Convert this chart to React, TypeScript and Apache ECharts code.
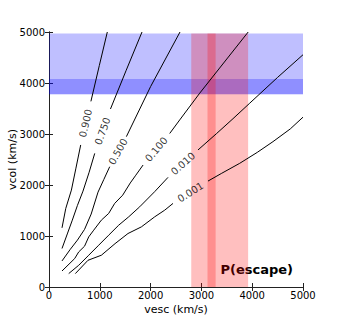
import React, { useEffect, useRef } from "react";
import * as echarts from "echarts";

// Contour lines (vesc, vcol) in km/s, split around their inline labels
const c900Lower = [[256, 1160], [330, 1540], [441, 1900], [530, 2330], [624, 2785]];
const c900Upper = [[825, 3640], [990, 4340], [1148, 5000]];
const c750Lower = [[256, 755], [360, 1040], [459, 1311], [560, 1600], [669, 1880], [790, 2250], [900, 2620]];
const c750Upper = [[1210, 3490], [1520, 4250], [1831, 5000]];
const c500Lower = [[256, 511], [420, 740], [560, 920], [700, 1130], [830, 1430], [965, 1860], [1080, 2110], [1195, 2359]];
const c500Upper = [[1523, 2948], [2000, 3930], [2579, 5000]];
const c100Lower = [[256, 314], [506, 558], [585, 688], [700, 800], [782, 983], [880, 1114], [1031, 1311], [1175, 1443], [1293, 1639], [1450, 1800], [1600, 2040], [1700, 2180], [1852, 2392]];
const c100Upper = [[2376, 3010], [2573, 3276], [2967, 3801], [3921, 5000]];
const c010Lower = [[388, 263], [585, 426], [782, 623], [978, 819], [1175, 1016], [1372, 1212], [1569, 1376], [1785, 1572], [2081, 1870], [2343, 2150]];
const c010Upper = [[2933, 2687], [3300, 3010], [3622, 3300], [3951, 3604], [4500, 4110], [5000, 4554]];
const c001Lower = [[519, 263], [768, 524], [1031, 623], [1300, 850], [1555, 1049], [1819, 1179], [2081, 1376], [2278, 1507], [2441, 1639]];
const c001Upper = [[3130, 2077], [3400, 2230], [3754, 2425], [4100, 2640], [4409, 2850], [4750, 3100], [5000, 3330]];

const contourSegments = [c900Lower, c900Upper, c750Lower, c750Upper, c500Lower, c500Upper, c100Lower, c100Upper, c010Lower, c010Upper, c001Lower, c001Upper];

// Inline contour labels
const contourLabels = ["0.900", "0.750", "0.500", "0.100", "0.010", "0.001"];
const labelPoints = [[722, 3210], [1055, 3055], [1359, 2654], [2114, 2700], [2638, 2418], [2785, 1858]];
const labelAngles = [77, 70, 61, 50, 42, 32];

// Shaded bands
const blueBands = [[3780, 4970], [3780, 4080]];
const redBands = [[2800, 3920], [3120, 3280]];
const bandTop = 4970;

const axisMin = 0;
const axisMax = 5000;
const axisInterval = 1000;

const FONT = "DejaVu Sans";

export default function App() {
  const ref = useRef<HTMLDivElement>(null);
  useEffect(() => {
    if (!ref.current) return;
    const chart = echarts.init(ref.current, undefined, { renderer: "svg" });
    const axisCommon = {
      type: "value" as const,
      min: axisMin,
      max: axisMax,
      interval: axisInterval,
      splitLine: { show: false },
      axisLine: { show: true, lineStyle: { color: "#222", width: 1 } },
      axisTick: { show: true, inside: true, length: 4, lineStyle: { color: "#222" } },
    };
    const lineSeries = contourSegments.map((seg) => ({
      type: "line",
      data: seg,
      symbol: "none",
      showSymbol: false,
      silent: true,
      z: 3,
      lineStyle: { color: "#000", width: 1 },
    }));
    chart.setOption({
      animation: false,
      backgroundColor: "#fff",
      grid: { left: 49, right: 42, top: 32, bottom: 32, containLabel: false, outerBoundsMode: "none" },
      xAxis: [
        {
          ...axisCommon,
          position: "bottom",
          name: "vesc (km/s)",
          nameLocation: "middle",
          nameGap: 17,
          nameMoveOverlap: false,
          nameTextStyle: { color: "#000", fontSize: 11, fontFamily: FONT },
          axisLabel: { color: "#000", fontSize: 10, fontFamily: FONT, margin: 3, formatter: (v: number) => String(v) },
        },
        { ...axisCommon, position: "top", axisLabel: { show: false } },
      ],
      yAxis: [
        {
          ...axisCommon,
          position: "left",
          name: "vcol (km/s)",
          nameLocation: "middle",
          nameGap: 31,
          nameMoveOverlap: false,
          nameTextStyle: { color: "#000", fontSize: 11, fontFamily: FONT },
          axisLabel: { color: "#000", fontSize: 10, fontFamily: FONT, margin: 4, formatter: (v: number) => String(v) },
        },
        { ...axisCommon, position: "right", axisLabel: { show: false } },
      ],
      series: [
        {
          type: "line",
          data: [],
          z: 1,
          silent: true,
          markArea: {
            silent: true,
            itemStyle: { color: "rgba(0,0,255,0.25)" },
            data: blueBands.map((b) => [{ yAxis: b[0] }, { yAxis: b[1] }]),
          },
        },
        {
          type: "line",
          data: [],
          z: 2,
          silent: true,
          markArea: {
            silent: true,
            itemStyle: { color: "rgba(255,0,0,0.25)" },
            data: redBands.map((b) => [
              { xAxis: b[0], yAxis: axisMin },
              { xAxis: b[1], yAxis: bandTop },
            ]),
          },
        },
        ...lineSeries,
        {
          type: "scatter",
          silent: true,
          z: 4,
          symbolSize: 1,
          itemStyle: { color: "rgba(0,0,0,0)" },
          label: {
            show: true,
            position: "inside",
            color: "#000",
            fontSize: 10,
            fontFamily: FONT,
          },
          data: labelPoints.map((p, i) => ({
            value: p,
            label: { formatter: contourLabels[i], rotate: labelAngles[i] },
          })),
        },
      ],
      graphic: [
        {
          type: "text",
          right: 52,
          top: 263,
          style: {
            text: "P(escape)",
            fill: "#000",
            font: `bold 13px "${FONT}"`,
          },
        },
      ],
    });
    return () => chart.dispose();
  }, []);
  return (
    <div
      ref={ref}
      style={{ position: "fixed", left: 0, top: 0, width: 345, height: 319 }}
    />
  );
}
